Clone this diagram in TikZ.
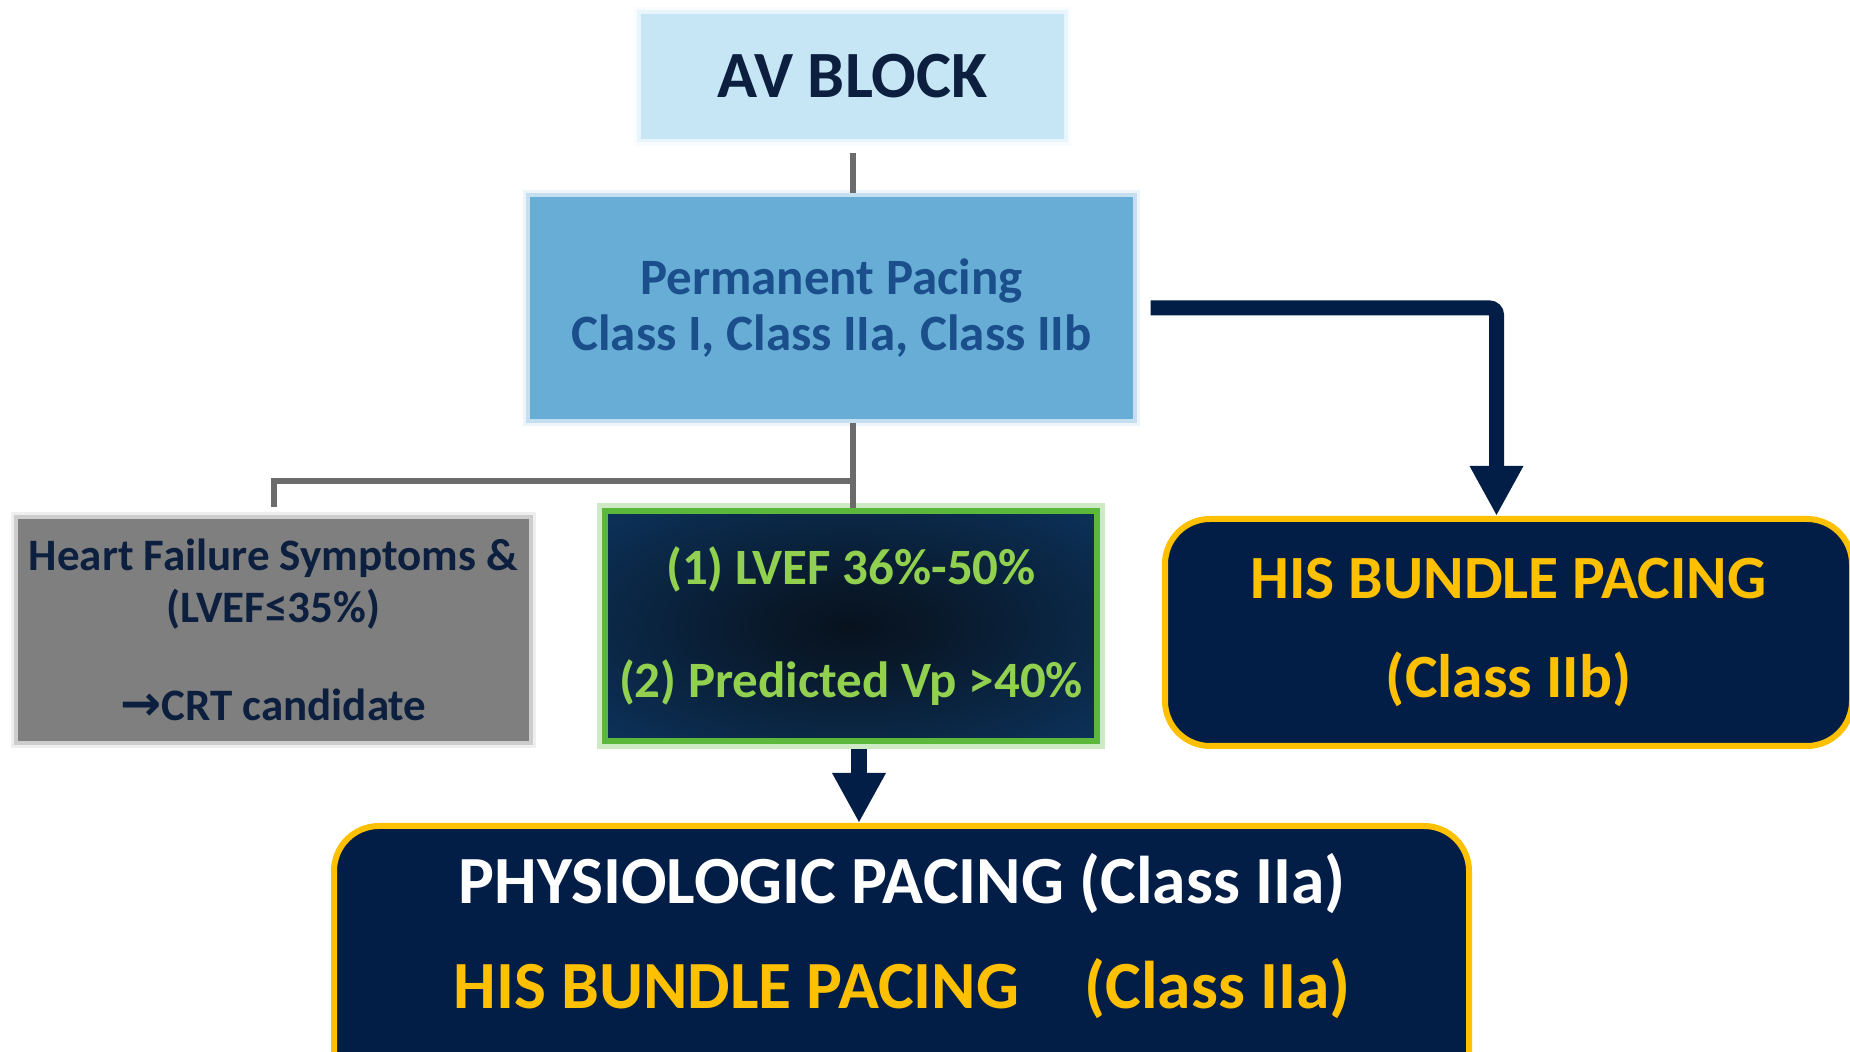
\documentclass[tikz,border=0pt]{standalone}
\usepackage{fontspec}
\setmainfont{Carlito}
\newfontfamily\symfont{DejaVu Sans}
\usetikzlibrary{positioning,arrows.meta}

\definecolor{avfill}{HTML}{C6E6F6}
\definecolor{avtext}{HTML}{0C1F3E}
\definecolor{permfill}{HTML}{67ADD6}
\definecolor{permtext}{HTML}{1A4F8B}
\definecolor{hffill}{HTML}{7F7F7F}
\definecolor{navy}{HTML}{021E46}
\definecolor{gold}{HTML}{FFC000}
\definecolor{leaf}{HTML}{92D050}
\definecolor{glow}{HTML}{5CB83A}
\definecolor{critin}{HTML}{08121E}
\definecolor{critout}{HTML}{0D3B6B}
\definecolor{linkgray}{HTML}{6B6B6B}

% dark centre fading out to blue at the edges
\pgfdeclareradialshading{critglow}{\pgfpoint{0bp}{0bp}}{color(0bp)=(critin); color(8bp)=(critin!85!critout); color(45bp)=(critout); color(100bp)=(critout)}

\tikzset{
  softbox/.style={rectangle, inner sep=0pt, align=center, fill=#1,
    preaction={draw=#1, line width=4pt, draw opacity=0.12},
    draw=#1, line width=2pt, draw opacity=0.3},
  pacebox/.style={rectangle, rounded corners=0.45cm, inner sep=0pt, align=center, fill=navy, draw=gold, line width=0.06cm},
  link/.style={draw=linkgray, line width=0.06cm},
  flow/.style={draw=navy, line width=0.15cm, -{Triangle[length=0.5cm,width=0.5cm]}}
}

\begin{document}
\begin{tikzpicture}
\useasboundingbox (0,0) rectangle (18.5,-10.52);
\clip (0,0) rectangle (18.5,-10.52);

% boxes
\node[softbox=avfill, minimum width=4.23cm, minimum height=1.25cm, text=avtext,
      font=\bfseries\fontsize{18.8}{22}\selectfont] (av) at (8.525,-0.765) {AV BLOCK};
\node[softbox=permfill, minimum width=6.03cm, minimum height=2.22cm, text=permtext,
      font=\bfseries\fontsize{14.5}{16}\selectfont] (perm) at (8.315,-3.08)
      {Permanent Pacing\\Class I, Class IIa, Class IIb};
\node[softbox=hffill, minimum width=5.11cm, minimum height=2.22cm, text=avtext,
      font=\bfseries\fontsize{12.8}{14.8}\selectfont] (hf) at (2.735,-6.30)
      {Heart Failure Symptoms \&\\(LVEF≤35\%)\\[13pt]{\symfont\fontsize{14}{14.8}\selectfont→}CRT candidate};
\node[rectangle, inner sep=0pt, align=center, shading=critglow,
      preaction={draw=glow, line width=4.5pt, draw opacity=0.3},
      draw=glow, line width=1.5pt, minimum width=4.92cm, minimum height=2.30cm, text=leaf,
      font=\bfseries\fontsize{14.5}{32}\selectfont] (crit) at (8.51,-6.26)
      {(1) LVEF 36\%-50\%\\(2) Predicted Vp >40\%};
\node[pacebox, minimum width=6.87cm, minimum height=2.27cm, text=gold,
      font=\bfseries\fontsize{17.5}{28}\selectfont] (his) at (15.085,-6.325)
      {HIS BUNDLE PACING\\(Class IIb)};
\node[pacebox, minimum width=11.35cm, minimum height=2.74cm] (phys) at (9.015,-9.63) {};
\node[align=center, font=\bfseries\fontsize{19.2}{30}\selectfont] (physT) at (9.02,-9.36)
      {\textcolor{white}{PHYSIOLOGIC PACING (Class IIa)}\\
       \textcolor{gold}{HIS BUNDLE PACING\hspace{0.5cm} (Class IIa)}};

% gray tree below the first two boxes
\coordinate (split) at (av.south |- 0,-4.81);
\draw[link] ([yshift=-0.11cm]av.south) -- (av.south |- perm.north);
\draw[link] (av.south |- perm.south) -- (split) -| ([yshift=0.08cm]hf.north);
\draw[link] (split) -- (split |- crit.north);

% arrows
\draw[flow, rounded corners=2pt] ([xshift=0.14cm]perm.east)
      -- ([xshift=-0.12cm]his.north |- perm.east) -- ([xshift=-0.12cm]his.north);
\draw[flow, line width=0.16cm] ([xshift=0.08cm,yshift=-0.05cm]crit.south)
      -- ([xshift=0.08cm]crit.south |- phys.north);
\end{tikzpicture}
\end{document}
